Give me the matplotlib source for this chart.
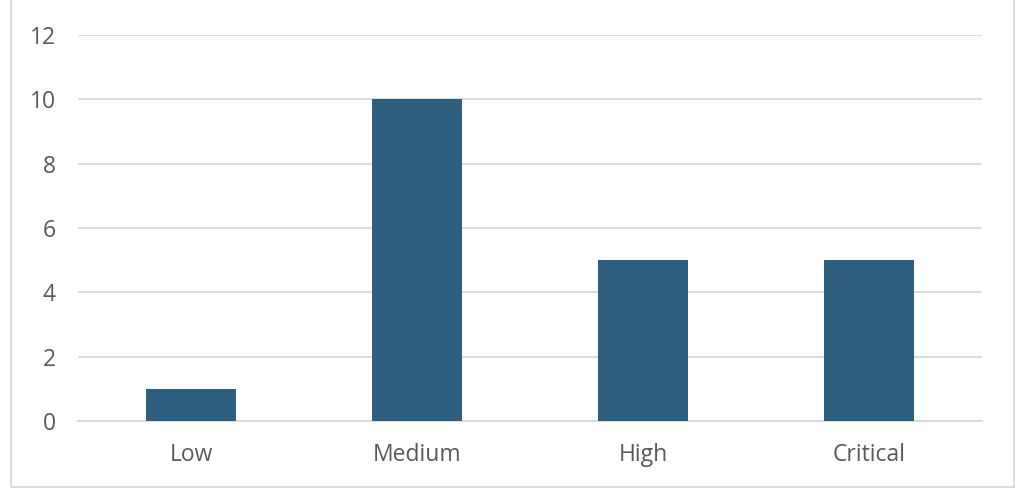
import matplotlib
matplotlib.use("Agg")
import matplotlib.pyplot as plt
from matplotlib.lines import Line2D

categories = ["Low", "Medium", "High", "Critical"]
counts = [1, 10, 5, 5]
y_ticks = [0, 2, 4, 6, 8, 10, 12]

plt.rcParams['font.family'] = ['Open Sans', 'DejaVu Sans']

fig = plt.figure(figsize=(10.24, 4.97), dpi=100)
ax = fig.add_axes([78 / 1024, 1 - 421 / 497, 904 / 1024, 386 / 497])

ax.bar(range(len(categories)), counts, width=0.4, color="#2E5F7E", zorder=3)
ax.set_xlim(-0.5, len(categories) - 0.5)
ax.set_ylim(0, 12)
ax.set_yticks(y_ticks)
ax.set_xticks(range(len(categories)))
ax.set_xticklabels(categories)

ax.grid(axis="y", color="#D9D9D9", linewidth=1.3, zorder=0)
ax.set_axisbelow(True)
for s in ax.spines.values():
    s.set_visible(False)
ax.spines["bottom"].set_visible(True)
ax.spines["bottom"].set_color("#D9D9D9")
ax.spines["bottom"].set_linewidth(1.3)
ax.tick_params(axis="both", length=0, labelsize=16.5, labelcolor="#595959")
ax.tick_params(axis="y", pad=16)
ax.tick_params(axis="x", pad=16)

# outer chart border (top edge lies above the image)
bc = "#D9D9D9"
x0, x1 = 10.5 / 1024, 1013.5 / 1024
yb = 1 - 486.5 / 497
fig.add_artist(Line2D([x0, x0], [yb, 1.01], transform=fig.transFigure, color=bc, lw=1.3))
fig.add_artist(Line2D([x1, x1], [yb, 1.01], transform=fig.transFigure, color=bc, lw=1.3))
fig.add_artist(Line2D([x0, x1], [yb, yb], transform=fig.transFigure, color=bc, lw=1.3))

fig.savefig("out.png", dpi=100, facecolor="white")
